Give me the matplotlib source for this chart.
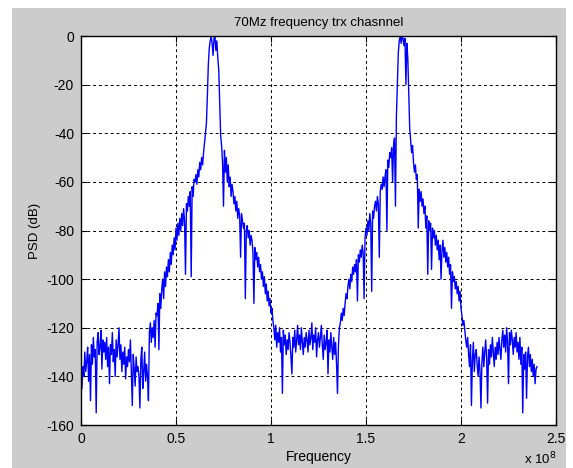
import numpy as np
import matplotlib
matplotlib.use("Agg")
import matplotlib.pyplot as plt
from matplotlib.patches import Rectangle

plt.rcParams["font.family"] = ["Liberation Sans", "DejaVu Sans"]
plt.rcParams["axes.unicode_minus"] = False

# PSD, one value every 0.5 MHz from 0 to 240 MHz
psd_db = [
    # 0.00 - 0.095 e8
    -133, -145, -136, -140, -130, -138, -134, -128, -142, -131,
    -150, -127, -135, -124, -132, -129, -155, -126, -122, -131,
    # 0.10
    -128, -121, -137, -125, -130, -126, -133, -124, -136, -128,
    -143, -127, -131, -122, -134, -129, -140, -125, -132, -127,
    # 0.20
    -120, -133, -127, -138, -130, -135, -128, -141, -132, -136,
    -129, -134, -125, -139, -152, -131, -137, -144, -132, -138,
    # 0.30
    -136, -140, -153, -133, -128, -145, -138, -130, -142, -135,
    -140, -150, -122, -118, -126, -120, -124, -117, -128, -114,
    # 0.40
    -115, -110, -129, -106, -112, -104, -100, -108, -97, -103,
    -95, -99, -92, -97, -89, -94, -86, -90, -83, -88,
    # 0.50
    -79, -84, -77, -82, -75, -80, -73, -78, -71, -76,
    -98, -69, -72, -66, -70, -64, -99, -62, -66, -59,
    # 0.60
    -60, -57, -61, -55, -58, -52, -55, -50, -53, -48,
    -44, -40, -36, -25, -12, -5, -2, 0, -3, -8,
    # 0.70
    -1, 0, -6, -2, -9, -14, -28, -41, -45, -52,
    -70, -47, -56, -50, -60, -53, -62, -58, -66, -61,
    # 0.80
    -64, -69, -66, -72, -68, -75, -71, -74, -91, -73,
    -76, -79, -77, -108, -80, -78, -83, -80, -86, -82,
    # 0.90
    -84, -89, -110, -87, -92, -89, -95, -91, -97, -94,
    -100, -97, -103, -99, -106, -102, -109, -105, -111, -108,
    # 1.00
    -114, -112, -117, -120, -125, -119, -128, -122, -126, -120,
    -130, -124, -147, -121, -127, -123, -131, -125, -129, -122,
    # 1.10
    -126, -132, -139, -124, -128, -121, -130, -125, -119, -127,
    -123, -129, -120, -126, -131, -124, -128, -122, -125, -130,
    # 1.20
    -121, -127, -124, -118, -129, -123, -126, -120, -132, -125,
    -122, -128, -124, -119, -127, -133, -123, -129, -126, -121,
    # 1.30
    -139, -125, -130, -122, -128, -133, -124, -131, -126, -135,
    -147, -127, -120, -118, -114, -117, -112, -115, -110, -106,
    # 1.40
    -108, -103, -100, -104, -98, -101, -95, -98, -94, -97,
    -92, -109, -90, -93, -88, -91, -86, -89, -108, -83,
    # 1.50
    -79, -82, -76, -80, -73, -77, -105, -72, -75, -70,
    -68, -72, -66, -69, -91, -64, -61, -63, -58, -62,
    # 1.60
    -58, -55, -80, -51, -54, -48, -50, -46, -60, -45,
    -42, -70, -33, -20, -7, -2, 0, -3, 0, -1,
    # 1.70
    -4, -1, -20, -3, -9, -24, -38, -43, -48, -45,
    -52, -56, -53, -59, -57, -79, -63, -68, -64, -70,
    # 1.80
    -67, -73, -70, -79, -74, -98, -76, -80, -77, -96,
    -79, -83, -80, -86, -82, -88, -84, -92, -86, -100,
    # 1.90
    -88, -84, -91, -87, -93, -89, -95, -91, -98, -94,
    -112, -97, -101, -99, -104, -101, -106, -103, -109, -105,
    # 2.00
    -112, -115, -119, -117, -121, -125, -128, -124, -131, -136,
    -127, -152, -133, -126, -138, -131, -129, -135, -140, -132,
    # 2.10
    -138, -153, -134, -128, -136, -130, -125, -133, -151, -129,
    -135, -127, -132, -124, -130, -136, -128, -133, -126, -131,
    # 2.20
    -124, -129, -133, -125, -121, -128, -123, -130, -120, -126,
    -143, -122, -127, -121, -125, -131, -124, -128, -122, -130,
    # 2.30
    -126, -133, -124, -135, -128, -155, -131, -137, -130, -149,
    -132, -128, -136, -131, -138, -133, -140, -135, -143, -137,
    -136,
]
freq_step_hz = 0.5e6
freq_hz = np.arange(len(psd_db)) * freq_step_hz

x_ticks = [0, 0.5e8, 1e8, 1.5e8, 2e8, 2.5e8]
x_tick_labels = ["0", "0.5", "1", "1.5", "2", "2.5"]
y_ticks = [0, -20, -40, -60, -80, -100, -120, -140, -160]

W, H = 573, 468
fig = plt.figure(figsize=(W / 100, H / 100), dpi=100, facecolor="white")

# matlab-ish grey figure panel
fig.patches.append(Rectangle((12 / W, 0), (566 - 12) / W, (H - 8) / H,
                             transform=fig.transFigure, facecolor="#cccccc",
                             edgecolor="none", zorder=-10))

ax = fig.add_axes([81 / W, 1 - 425 / H, (556 - 81) / W, (425 - 36) / H])
ax.plot(freq_hz, psd_db, color=(0, 0, 1), linewidth=1.0)

ax.set_xlim(0, 2.5e8)
ax.set_ylim(-160, 0)
ax.set_xticks(x_ticks)
ax.set_xticklabels(x_tick_labels)
ax.set_yticks(y_ticks)
ax.grid(True, color="black", linestyle=(0, (3, 3)), linewidth=0.7)
ax.tick_params(direction="in", length=4, width=0.8, labelsize=10,
               top=True, right=True, pad=5)
for s in ax.spines.values():
    s.set_linewidth(1.0)

ax.set_title("70Mz frequency trx chasnnel", fontsize=9.5, pad=7)
ax.set_xlabel("Frequency", fontsize=10, labelpad=3)
ax.set_ylabel("PSD (dB)", fontsize=9.5, labelpad=4)

fig.text(524 / W, 1 / H, r"x 10$^{8}$", fontsize=9.5, va="bottom", ha="left")

fig.savefig("out.png", dpi=100, facecolor=fig.get_facecolor())
